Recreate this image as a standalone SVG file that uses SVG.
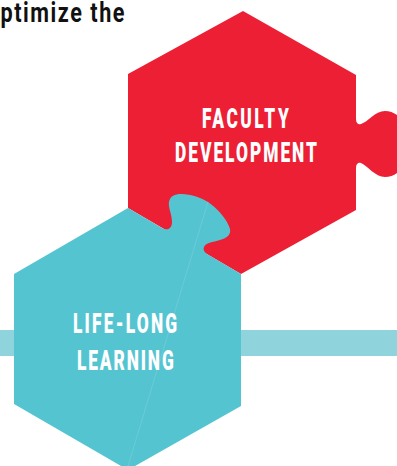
<svg xmlns="http://www.w3.org/2000/svg" width="397" height="466" viewBox="0 0 397 466">
<style>
.lbl{font-family:"Roboto","Liberation Sans",sans-serif;font-weight:900;font-size:28px;fill:#fff}
.head{font-family:"Roboto","Liberation Sans",sans-serif;font-weight:700;font-size:27px;fill:#111}
</style>
<rect width="397" height="466" fill="#fff"/>
<rect id="bar" x="0" y="330" width="397" height="26" fill="#8FD4DD"/>
<text class="head" transform="translate(0.5 22) scale(.8 1)" textLength="155" lengthAdjust="spacing">ptimize the</text>
<g id="faculty">
<path fill="#ED1F35" d="M243 11L356 75V119C356 123 358 125 361 124C368 122 375 111 385 111C391 111 397 114 400 118V170C397 174 391 177 385 177C375 177 368 166 361 163C358 162 356 164 356 168V210L241 274L128 208V74Z"/>
<text class="lbl" transform="translate(202 127.5) scale(.62 1)" textLength="140" lengthAdjust="spacing">FACULTY</text>
<text class="lbl" transform="translate(175 162) scale(.62 1)" textLength="229" lengthAdjust="spacing">DEVELOPMENT</text>
</g>
<g id="lifelong">
<path fill="#55C4D1" d="M128 208L162 228C167 231 172 229 172 222C172 214 168 208 169 202C170 196 175 194 181 194C192 194 201 198 208 202C218 209 227 219 230 229C231 235 227 238 220 240C213 242 205 243 204 247C203 250 204 252 207 254L241 274V406L128 470L14 404V274Z"/>
<path d="M208 202L128 466" fill="none" stroke="#7CCFDA" stroke-width=".6"/>
<text class="lbl" transform="translate(73 333) scale(.62 1)" textLength="168" lengthAdjust="spacing">LIFE-LONG</text>
<text class="lbl" transform="translate(77 369.5) scale(.62 1)" textLength="156" lengthAdjust="spacing">LEARNING</text>
</g>
<g id="connectors"/>
</svg>
